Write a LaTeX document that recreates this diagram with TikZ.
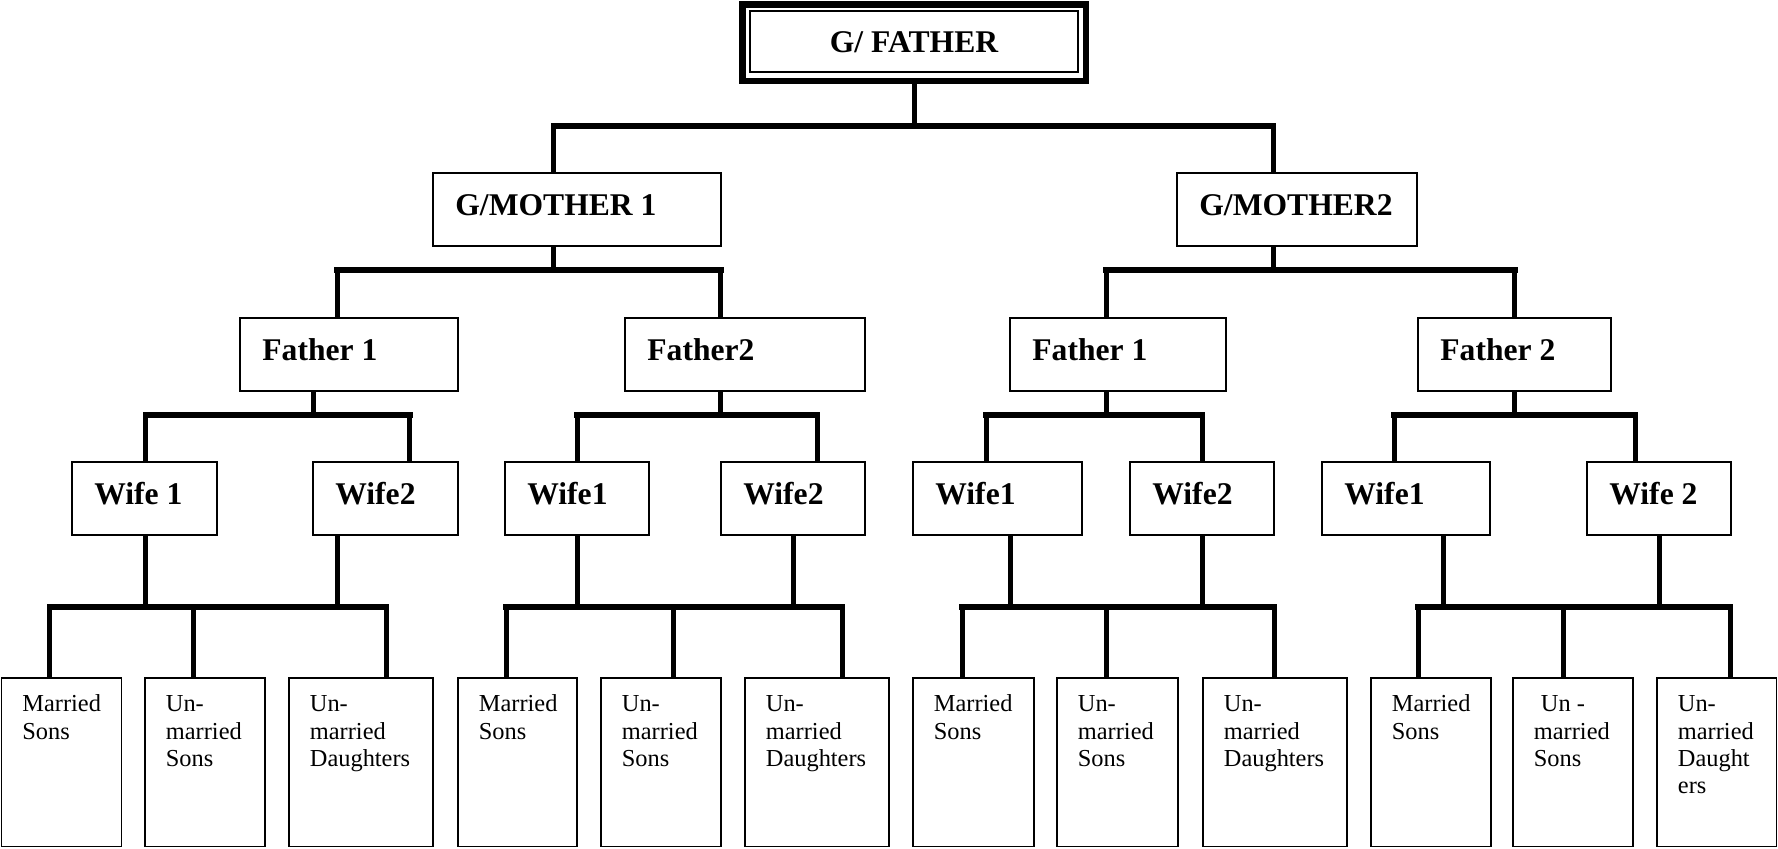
\documentclass[tikz,border=0pt]{standalone}
\usepackage{fontspec}
\setmainfont{Liberation Serif}

\tikzset{
  famrect/.style={draw, line width=0.9pt, rectangle, inner sep=0pt, outer sep=0pt, anchor=north west},
  headlbl/.style={anchor=base west, inner sep=0pt, xshift=11pt, yshift=-21pt,
                  font=\fontsize{15.8}{19}\selectfont\bfseries},
  leaflbl/.style={anchor=base west, inner sep=0pt, xshift=10.25pt, yshift=-16.9pt,
                  font=\fontsize{12.2}{13.6}\selectfont},
  stem/.style={line width=2.5pt},
  bar/.style={line width=3pt, line cap=rect},
}

% box given by its corners, with a label placed inside its upper left part
\newcommand{\famnode}[7]{%
  \node[famrect, minimum width={(#4-#2)*0.5pt}, minimum height={(#5-#3)*0.5pt},
        label={[#6]north west:#7}] (#1) at (#2,#3) {};}
\newcommand{\leaftext}[1]{\parbox[t]{60pt}{\raggedright #1}}
% vertical line from a parent box down to its bar
\newcommand{\trunk}[3]{%
  \coordinate (t-#1) at (#2,#3);
  \draw[stem] (t-#1 |- #1.south) -- (t-#1);}
% vertical line from a bar down to a child box
\newcommand{\branch}[3]{%
  \coordinate (b-#1) at (#2,#3);
  \draw[stem] (b-#1) -- (b-#1 |- #1.north);}

\begin{document}
\begin{tikzpicture}[x=0.5pt, y=-0.5pt]
\useasboundingbox (0,0) rectangle (1778,848);

% ---- grandfather
\node[draw, line width=3.25pt, rectangle, inner sep=0pt, outer sep=0pt, anchor=north west,
      minimum width={(1085.75-742.25)*0.5pt}, minimum height={(80.75-4.25)*0.5pt},
      font=\fontsize{15.8}{19}\selectfont\bfseries] (gf) at (742.25,4.25) {G/ FATHER};
\draw[line width=1pt] ([xshift=3.875pt, yshift=-3.375pt]gf.north west)
      rectangle ([xshift=-3.875pt, yshift=4.375pt]gf.south east);

% ---- grandmothers
\famnode{gm1}{433}{173}{721}{246}{headlbl}{G/MOTHER 1}
\famnode{gm2}{1177}{173}{1417}{246}{headlbl}{G/MOTHER2}

% ---- fathers
\famnode{f1a}{240}{318}{458}{391}{headlbl}{Father 1}
\famnode{f2a}{625}{318}{865}{391}{headlbl}{Father2}
\famnode{f1b}{1010}{318}{1226}{391}{headlbl}{Father 1}
\famnode{f2b}{1418}{318}{1611}{391}{headlbl}{Father 2}

% ---- wives
\famnode{w1a}{72}{462}{217}{535}{headlbl}{Wife 1}
\famnode{w2a}{313}{462}{458}{535}{headlbl}{Wife2}
\famnode{w1b}{505}{462}{649}{535}{headlbl}{Wife1}
\famnode{w2b}{721}{462}{865}{535}{headlbl}{Wife2}
\famnode{w1c}{913}{462}{1082}{535}{headlbl}{Wife1}
\famnode{w2c}{1130}{462}{1274}{535}{headlbl}{Wife2}
\famnode{w1d}{1322}{462}{1490}{535}{headlbl}{Wife1}
\famnode{w2d}{1587}{462}{1731}{535}{headlbl}{Wife 2}

% ---- children
\famnode{c1}{1.5}{678}{121.5}{846.5}{leaflbl}{\leaftext{Married\\Sons}}
\famnode{c2}{145}{678}{265}{846.5}{leaflbl}{\leaftext{Un-\\married\\Sons}}
\famnode{c3}{289}{678}{433}{846.5}{leaflbl}{\leaftext{Un-\\married\\Daughters}}
\famnode{c4}{458}{678}{577}{846.5}{leaflbl}{\leaftext{Married\\Sons}}
\famnode{c5}{601}{678}{721}{846.5}{leaflbl}{\leaftext{Un-\\married\\Sons}}
\famnode{c6}{745}{678}{889}{846.5}{leaflbl}{\leaftext{Un-\\married\\Daughters}}
\famnode{c7}{913}{678}{1034}{846.5}{leaflbl}{\leaftext{Married\\Sons}}
\famnode{c8}{1057}{678}{1178}{846.5}{leaflbl}{\leaftext{Un-\\married\\Sons}}
\famnode{c9}{1203}{678}{1347}{846.5}{leaflbl}{\leaftext{Un-\\married\\Daughters}}
\famnode{c10}{1371}{678}{1491}{846.5}{leaflbl}{\leaftext{Married\\Sons}}
\famnode{c11}{1513}{678}{1633}{846.5}{leaflbl}{\leaftext{\hspace*{3.5pt}Un -\\married\\Sons}}
\famnode{c12}{1657}{678}{1776.5}{846.5}{leaflbl}{\leaftext{Un-\\married\\Daught\\ers}}

% ---- grandfather to grandmothers
\trunk{gf}{914}{126}
\branch{gm1}{553.5}{126}
\branch{gm2}{1273}{126}
\draw[bar] (b-gm1) -- (b-gm2);

% ---- grandmothers to fathers
\trunk{gm1}{553.5}{270}
\branch{f1a}{337}{270}
\branch{f2a}{720.5}{270}
\draw[bar] (b-f1a) -- (b-f2a);
\trunk{gm2}{1273}{270}
\branch{f1b}{1106}{270}
\branch{f2b}{1514.5}{270}
\draw[bar] (b-f1b) -- (b-f2b);

% ---- fathers to wives
\trunk{f1a}{313.5}{414.5}
\branch{w1a}{145.5}{414.5}
\branch{w2a}{409.5}{414.5}
\draw[bar] (b-w1a) -- (b-w2a);
\trunk{f2a}{720.5}{414.5}
\branch{w1b}{577}{414.5}
\branch{w2b}{817}{414.5}
\draw[bar] (b-w1b) -- (b-w2b);
\trunk{f1b}{1106}{414.5}
\branch{w1c}{986}{414.5}
\branch{w2c}{1202}{414.5}
\draw[bar] (b-w1c) -- (b-w2c);
\trunk{f2b}{1514.5}{414.5}
\branch{w1d}{1394}{414.5}
\branch{w2d}{1635}{414.5}
\draw[bar] (b-w1d) -- (b-w2d);

% ---- wives to children
\trunk{w1a}{145.5}{607}
\trunk{w2a}{337}{607}
\branch{c1}{49.5}{607}
\branch{c2}{193}{607}
\branch{c3}{386}{607}
\draw[bar] (b-c1) -- (b-c3);
\trunk{w1b}{577}{607}
\trunk{w2b}{793}{607}
\branch{c4}{506}{607}
\branch{c5}{673}{607}
\branch{c6}{842}{607}
\draw[bar] (b-c4) -- (b-c6);
\trunk{w1c}{1010}{607}
\trunk{w2c}{1202}{607}
\branch{c7}{962}{607}
\branch{c8}{1106}{607}
\branch{c9}{1274}{607}
\draw[bar] (b-c7) -- (b-c9);
\trunk{w1d}{1443}{607}
\trunk{w2d}{1659}{607}
\branch{c10}{1418}{607}
\branch{c11}{1563}{607}
\branch{c12}{1730}{607}
\draw[bar] (b-c10) -- (b-c12);
\end{tikzpicture}
\end{document}
